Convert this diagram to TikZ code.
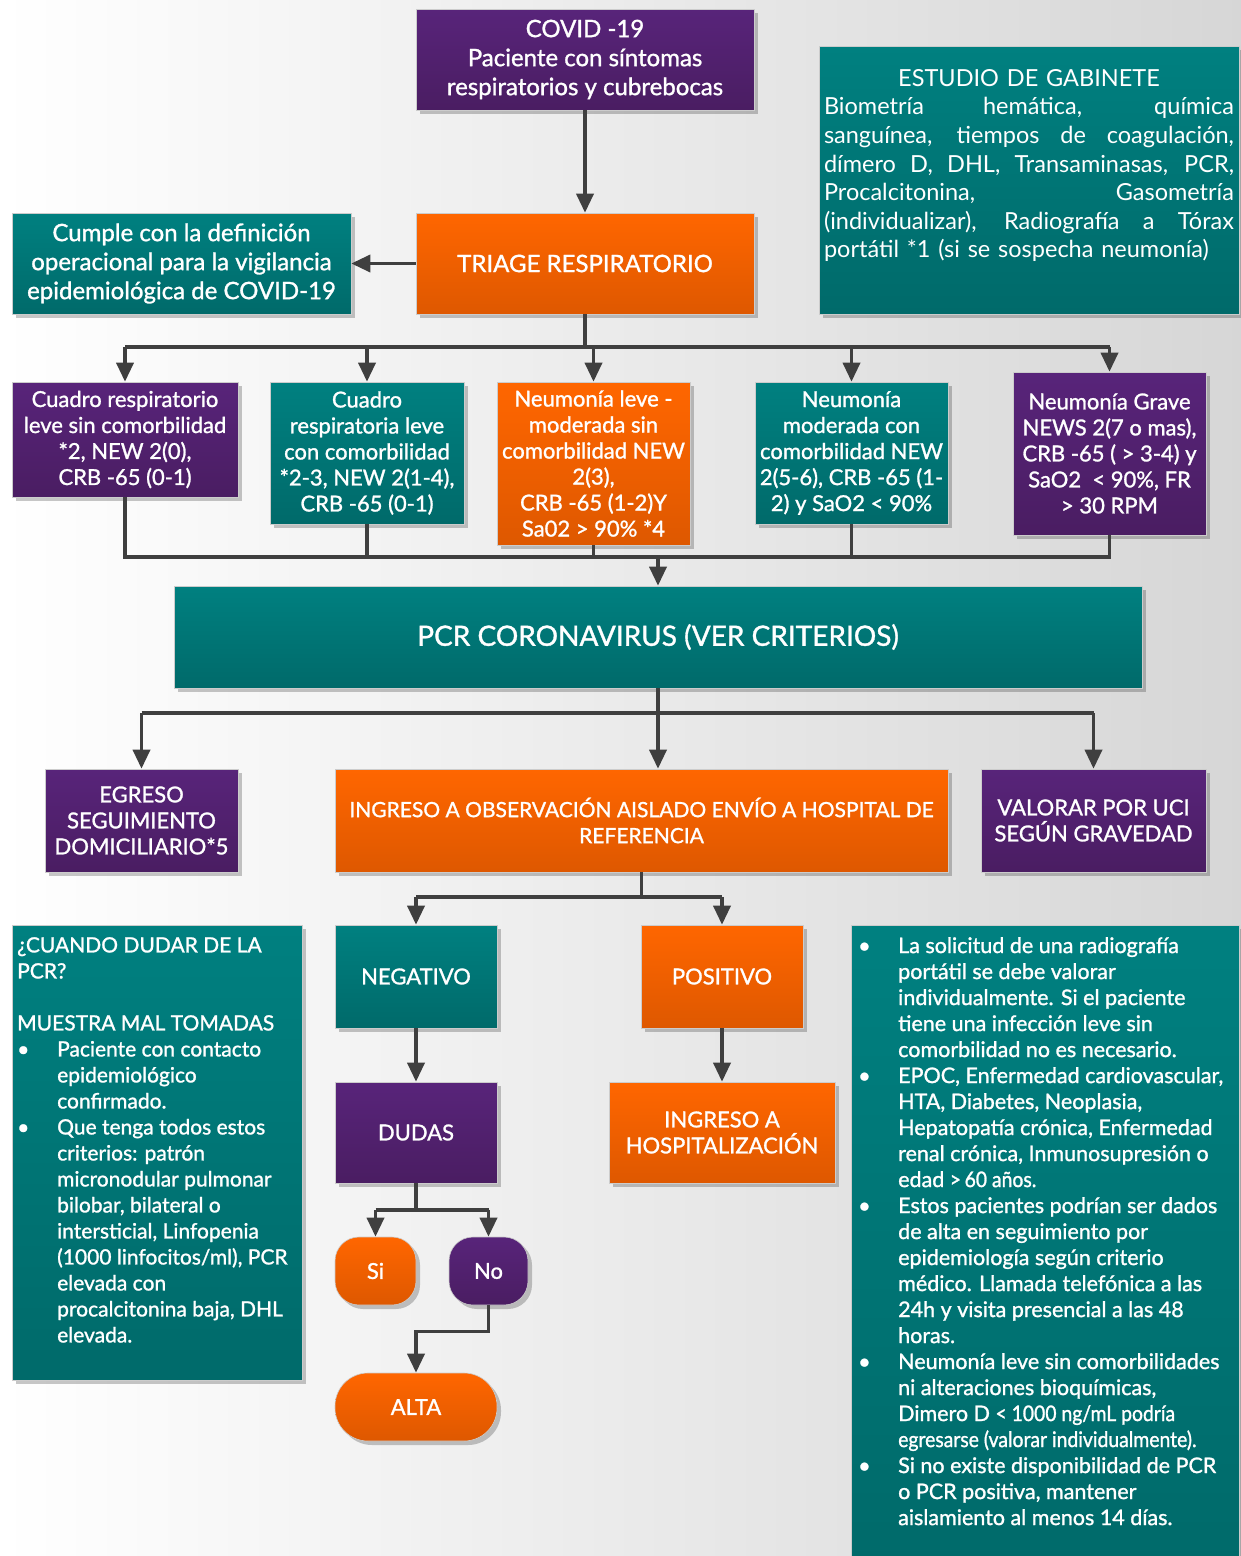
\documentclass[tikz,border=0pt]{standalone}
\usepackage{fontspec}
\setmainfont{Lato}[FakeBold=1.2]
\newfontfamily\regf{Lato}
\newfontfamily\cf{Lato}[FakeStretch=0.9,FakeBold=1.2]
\usetikzlibrary{arrows.meta,shadows}
\definecolor{purT}{HTML}{58247A}
\definecolor{purB}{HTML}{4A1D62}
\definecolor{oraT}{HTML}{FF6600}
\definecolor{oraB}{HTML}{DE5800}
\definecolor{teaT}{HTML}{008080}
\definecolor{teaB}{HTML}{006A6A}
\definecolor{dgray}{HTML}{3F3F3F}
\newcommand\mybul{\makebox[40pt][l]{\textbullet}}
\newcommand\myind{\hspace*{40pt}}
\newcommand\jline[1]{\leavevmode\hbox to \linewidth{\spaceskip=0.3em plus 1fil\relax #1}}
\tikzset{
  bx/.style={rectangle, draw=gray!40, line width=0.6pt, text=white, align=center, inner sep=2pt,
    drop shadow={shadow xshift=4pt, shadow yshift=-4pt, opacity=0.22, fill=black}},
  pbox/.style={bx, top color=purT, bottom color=purB},
  obox/.style={bx, top color=oraT, bottom color=oraB},
  tbox/.style={bx, top color=teaT, bottom color=teaB},
  lab/.style={font=\fontsize{22}{26}\selectfont},
  big/.style={font=\fontsize{24}{29}\selectfont},
  conn/.style={draw=dgray, line width=3.5pt},
  arr/.style={conn, -{Triangle[width=17pt,length=19pt]}},
}
\begin{document}
\begin{tikzpicture}[x=1pt,y=-1pt]
\useasboundingbox (0,0) rectangle (1241,1556);
\fill[left color=white, right color=gray!32] (0,0) rectangle (1241,1556);

% top
\node[pbox, big, minimum width=338pt, minimum height=101pt] (covid) at (585,59.5)
  {COVID -19\\ Paciente con síntomas\\ respiratorios y cubrebocas};
\node[obox, big, minimum width=338pt, minimum height=101pt] (triage) at (585,263.5)
  {TRIAGE RESPIRATORIO};
\node[tbox, big, minimum width=339pt, minimum height=101pt] (cumple) at (181.5,263.5)
  {Cumple con la definición\\ operacional para la vigilancia\\ epidemiológica de COVID-19};
\node[tbox, minimum width=420pt, minimum height=268pt] (estudio) at (1029,180) {};
\node[text=white, anchor=north, text width=410pt, align=left, inner sep=0pt,
      font=\regf\fontsize{23.5}{28.6}\selectfont] (estudiotxt) at (1029,69)
  {\leavevmode\hbox to \linewidth{\hfil ESTUDIO DE GABINETE\hfil}\\
   \jline{Biometría hemática, química}\\
   \jline{sanguínea, tiempos de coagulación,}\\
   \jline{dímero D, DHL, Transaminasas, PCR,}\\
   \jline{Procalcitonina, Gasometría}\\
   \jline{(individualizar), Radiografía a Tórax}\\
   portátil *1 (si se sospecha neumonía)};

% row of categories
\node[pbox, lab, minimum width=226pt, minimum height=115pt] (b1) at (125,439.5)
  {Cuadro respiratorio\\ leve sin comorbilidad\\ *2, NEW 2(0),\\ CRB -65 (0-1)};
\node[tbox, lab, minimum width=194pt, minimum height=142pt] (b2) at (367,453)
  {Cuadro\\ respiratoria leve\\ con comorbilidad\\ *2-3, NEW 2(1-4),\\ CRB -65 (0-1)};
\node[obox, lab, minimum width=193pt, minimum height=163pt] (b3) at (593.5,463.5)
  {Neumonía leve -\\ moderada sin\\ comorbilidad NEW\\ 2(3),\\ CRB -65 (1-2)Y\\ Sa02 > 90\% *4};
\node[tbox, lab, minimum width=193pt, minimum height=142pt] (b4) at (851.5,453)
  {Neumonía\\ moderada con\\ comorbilidad NEW\\ 2(5-6), CRB -65 (1-\\ 2) y SaO2 < 90\%};
\node[pbox, lab, minimum width=193pt, minimum height=163pt] (b5) at (1109.5,453.5)
  {Neumonía Grave\\ NEWS 2(7 o mas),\\ CRB -65 ( > 3-4) y\\ SaO2 \ < 90\%, FR\\ > 30 RPM};

\node[tbox, font=\fontsize{28}{34}\selectfont, minimum width=968pt, minimum height=102pt] (pcr) at (658,637)
  {PCR CORONAVIRUS (VER CRITERIOS)};

\node[pbox, lab, minimum width=193pt, minimum height=103pt] (egreso) at (141.5,820.5)
  {EGRESO\\ SEGUIMIENTO\\ DOMICILIARIO*5};
\node[obox, font=\fontsize{21}{26}\selectfont, minimum width=613pt, minimum height=103pt] (ingobs) at (641.5,820.5)
  {INGRESO A OBSERVACIÓN AISLADO ENVÍO A HOSPITAL DE\\ REFERENCIA};
\node[pbox, lab, minimum width=225pt, minimum height=103pt] (valorar) at (1093.5,820.5)
  {VALORAR POR UCI\\ SEGÚN GRAVEDAD};

\node[tbox, lab, minimum width=162pt, minimum height=103pt] (neg) at (416,976.5) {NEGATIVO};
\node[obox, lab, minimum width=162pt, minimum height=103pt] (pos) at (722,976.5) {POSITIVO};
\node[pbox, lab, minimum width=162pt, minimum height=101pt] (dudas) at (416,1132.5) {DUDAS};
\node[obox, lab, minimum width=226pt, minimum height=101pt] (inghosp) at (722,1132.5)
  {INGRESO A\\ HOSPITALIZACIÓN};
\node[obox, lab, rounded corners=24pt, minimum width=81pt, minimum height=68pt] (si) at (375.5,1271) {Si};
\node[pbox, lab, rounded corners=24pt, minimum width=79pt, minimum height=68pt] (no) at (488.5,1271) {No};
\node[obox, lab, rounded corners=33pt, minimum width=162pt, minimum height=68pt] (alta) at (416,1407) {ALTA};

% text boxes
\node[tbox, minimum width=290pt, minimum height=455pt] (leftbox) at (157,1152.5) {};
\node[text=white, anchor=north west, align=left, inner sep=0pt,
      font=\fontsize{21}{26}\selectfont] (lefttxt) at (17,937)
  {¿CUANDO DUDAR DE LA\\ PCR?\\[26pt]
   MUESTRA MAL TOMADAS\\
   \mybul Paciente con contacto\\
   \myind epidemiológico\\
   \myind confirmado.\\
   \mybul Que tenga todos estos\\
   \myind criterios: patrón\\
   \myind micronodular pulmonar\\
   \myind bilobar, bilateral o\\
   \myind intersticial, Linfopenia\\
   \myind (1000 linfocitos/ml), PCR\\
   \myind elevada con\\
   \myind procalcitonina baja, DHL\\
   \myind elevada.};
\node[tbox, minimum width=388pt, minimum height=640pt] (rightbox) at (1045,1245) {};
\node[text=white, anchor=north west, align=left, inner sep=0pt,
      font=\fontsize{21.5}{26}\selectfont] (righttxt) at (858,937)
  {\mybul La solicitud de una radiografía\\
   \myind portátil se debe valorar\\
   \myind individualmente. Si el paciente\\
   \myind tiene una infección leve sin\\
   \myind comorbilidad no es necesario.\\
   \mybul EPOC, Enfermedad cardiovascular,\\
   \myind HTA, Diabetes, Neoplasia,\\
   \myind Hepatopatía crónica, Enfermedad\\
   \myind renal crónica, Inmunosupresión o\\
   \myind edad {\cf >\,60 años.}\\
   \mybul Estos pacientes podrían ser dados\\
   \myind de alta en seguimiento por\\
   \myind epidemiología según criterio\\
   \myind médico. Llamada telefónica a las\\
   \myind 24h y visita presencial a las 48\\
   \myind horas.\\
   \mybul Neumonía leve sin comorbilidades\\
   \myind ni alteraciones bioquímicas,\\
   \myind Dimero D {\cf < 1000 ng/mL podría}\\
   \myind {\cf egresarse (valorar individualmente).}\\
   \mybul Si no existe disponibilidad de PCR\\
   \myind o PCR positiva, mantener\\
   \myind aislamiento al menos 14 días.};

% connectors
\draw[arr] (covid.south) -- (triage.north);
\draw[arr] (triage.west) -- (cumple.east);
\coordinate (t1) at (585,347);
\draw[conn] (triage.south) -- (t1);
\draw[conn] (b1.north |- t1) -- (b5.north |- t1);
\foreach \n in {b1,b2,b3,b4,b5} \draw[arr] (\n.north |- t1) -- (\n.north);

\coordinate (m) at (658,557);
\draw[conn] (b1.south) -- (b1.south |- m) -- (b5.south |- m) -- (b5.south);
\foreach \n in {b2,b3,b4} \draw[conn] (\n.south) -- (\n.south |- m);
\draw[arr] (m) -- (pcr.north);

\coordinate (p) at (658,713);
\draw[conn] (pcr.south) -- (p);
\draw[conn] (egreso.north |- p) -- (valorar.north |- p);
\draw[arr] (egreso.north |- p) -- (egreso.north);
\draw[arr] (p) -- (p |- ingobs.north);
\draw[arr] (valorar.north |- p) -- (valorar.north);

\coordinate (q) at (641.5,897);
\draw[conn] (ingobs.south) -- (q);
\draw[conn] (neg.north |- q) -- (pos.north |- q);
\draw[arr] (neg.north |- q) -- (neg.north);
\draw[arr] (pos.north |- q) -- (pos.north);

\draw[arr] (neg.south) -- (dudas.north);
\draw[arr] (pos.south) -- (inghosp.north);

\coordinate (r) at (416,1210);
\draw[conn] (dudas.south) -- (r);
\draw[conn] (si.north |- r) -- (no.north |- r);
\draw[arr] (si.north |- r) -- (si.north);
\draw[arr] (no.north |- r) -- (no.north);
\draw[arr] (no.south) -- ++(0,26) -| (alta.north);
\end{tikzpicture}
\end{document}
